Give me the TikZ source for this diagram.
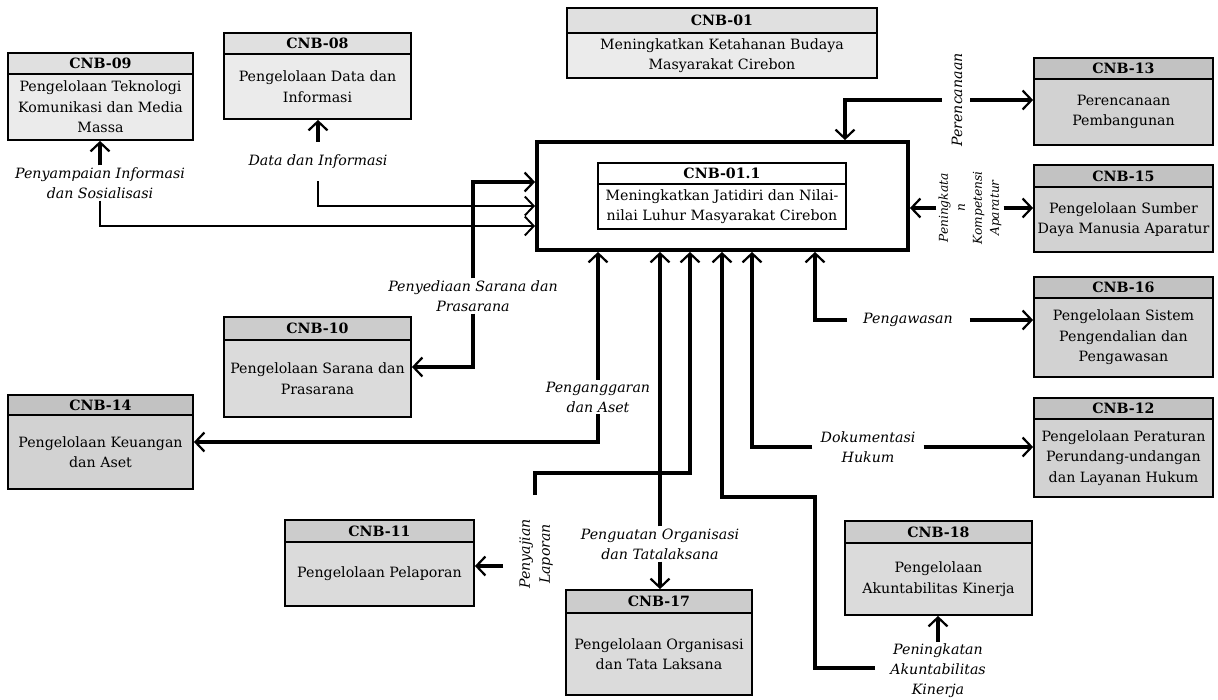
\documentclass[tikz,border=0pt]{standalone}
\usepackage{fontspec}
\setmainfont{DejaVu Serif}
\usetikzlibrary{arrows.meta,fit,calc}
\tikzset{
  lighthead/.style={fill=gray!24}, lightbody/.style={fill=gray!16},
  midhead/.style={fill=gray!40}, midbody/.style={fill=gray!28},
  darkhead/.style={fill=gray!48}, darkbody/.style={fill=gray!35},
  whitehead/.style={fill=white}, whitebody/.style={fill=white},
  cnbframe/.style={draw, line width=1.8pt, inner sep=0pt},
  cnbsep/.style={line width=1.5pt},
  cnbtitle/.style={font=\fontsize{14.2}{16}\selectfont\bfseries, inner sep=0pt},
  cnbbody/.style={align=center, inner sep=0pt, font=\fontsize{14.2}{20.5}\selectfont},
  lbl/.style={align=center, inner sep=2pt, font=\fontsize{14.2}{20}\selectfont\itshape},
  smalllbl/.style={align=center, inner sep=2pt, font=\fontsize{12.2}{17}\selectfont\itshape},
  conn/.style={line width=3.4pt, -{Straight Barb[length=9pt,width=19pt,line width=2.2pt]}},
  thinconn/.style={line width=1.9pt, -{Straight Barb[length=9pt,width=19pt,line width=1.9pt]}},
}
\newcommand\cnbbox[9]{%
  \fill[#1head] (#3,#4) rectangle (#5,#7);
  \fill[#1body] (#3,#7) rectangle (#5,#6);
  \draw[cnbsep] (#3,#7) -- (#5,#7);
  \node[cnbframe, fit={(#3,#4) (#5,#6)}] (#2) {};
  \node[cnbtitle] (#2-t) at ($(#3,#4)!0.5!(#5,#7)$) {#8};
  \node[cnbbody] (#2-b) at ($(#3,#7)!0.5!(#5,#6)$) {#9};
}
\begin{document}
\begin{tikzpicture}[x=1pt,y=-1pt]
\fill[white] (0,0) rectangle (1218,699);
\useasboundingbox (0,0) rectangle (1218,699);

% boxes
\cnbbox{light}{cnb09}{8}{53}{193}{140}{74}{CNB-09}{Pengelolaan Teknologi\\Komunikasi dan Media\\Massa}
\cnbbox{light}{cnb08}{224}{33}{411}{119}{54}{CNB-08}{Pengelolaan Data dan\\Informasi}
\cnbbox{light}{cnb01}{567}{8}{877}{78}{33}{CNB-01}{Meningkatkan Ketahanan Budaya\\Masyarakat Cirebon}
\node[draw, line width=3.8pt, inner sep=0pt, fit={(537,142) (908,250)}] (main) {};
\cnbbox{white}{cnb011}{598}{163}{846}{229}{184}{CNB-01.1}{Meningkatkan Jatidiri dan Nilai-\\nilai Luhur Masyarakat Cirebon}
\cnbbox{dark}{cnb13}{1034}{58}{1213}{145}{79}{CNB-13}{Perencanaan\\Pembangunan}
\cnbbox{dark}{cnb15}{1034}{165}{1213}{252}{187}{CNB-15}{Pengelolaan Sumber\\Daya Manusia Aparatur}
\cnbbox{dark}{cnb16}{1034}{277}{1213}{377}{298}{CNB-16}{Pengelolaan Sistem\\Pengendalian dan\\Pengawasan}
\cnbbox{dark}{cnb12}{1034}{398}{1213}{497}{419}{CNB-12}{Pengelolaan Peraturan\\Perundang-undangan\\dan Layanan Hukum}
\cnbbox{mid}{cnb10}{224}{317}{411}{417}{340}{CNB-10}{Pengelolaan Sarana dan\\Prasarana}
\cnbbox{dark}{cnb14}{8}{395}{193}{489}{415}{CNB-14}{Pengelolaan Keuangan\\dan Aset}
\cnbbox{mid}{cnb11}{285}{520}{474}{606}{542}{CNB-11}{Pengelolaan Pelaporan}
\cnbbox{mid}{cnb17}{566}{590}{752}{695}{613}{CNB-17}{Pengelolaan Organisasi\\dan Tata Laksana}
\cnbbox{mid}{cnb18}{845}{521}{1032}{615}{543}{CNB-18}{Pengelolaan\\Akuntabilitas Kinerja}

% helper coordinates
\coordinate (yA) at (0,182);
\coordinate (yB) at (0,206);
\coordinate (yC) at (0,226);
\coordinate (yPLh) at (0,473);
\coordinate (xPL) at (690,0);
\coordinate (xAK) at (722,0);
\coordinate (xDH) at (752,0);
\coordinate (xPW) at (815,0);
\coordinate (xPR) at (845,0);
\coordinate (cPL) at (535,495);
\coordinate (cPL2) at (503,566);
\coordinate (cAK) at (875,668);
\coordinate (cAKb) at (815,497);

% labels
\node[lbl] (l09) at (100,183) {Penyampaian Informasi\\dan Sosialisasi};
\node[lbl] (l08) at (318,162) {Data dan Informasi};
\node[lbl] (l10) at (473,296) {Penyediaan Sarana dan\\Prasarana};
\node[lbl] (lPA) at (598,397) {Penganggaran\\dan Aset};
\node[lbl] (lPO) at (660,544) {Penguatan Organisasi\\dan Tatalaksana};
\node[lbl, rotate=90] (lPL) at (536,554) {Penyajian\\Laporan};
\node[lbl] (lAK) at (938,671) {Peningkatan\\Akuntabilitas\\Kinerja};
\node[lbl] (lDH) at (868,447) {Dokumentasi\\Hukum};
\node[lbl] (lPW) at (908,320) {Pengawasan};
\node[lbl, rotate=90] (lPR) at (957,100) {Perencanaan};
\node[smalllbl, rotate=90] (lKA) at (970,208) {Peningkata\\n\\Kompetensi\\Aparatur};

% connectors
\draw[conn] (l09.north) -- (cnb09.south -| l09.north);
\draw[thinconn] (l09.south) |- (main.west |- yC);
\draw[conn] ([yshift=11pt]l08.north) -- (cnb08.south -| l08.north);
\draw[thinconn] ([yshift=-10pt]l08.south) |- (main.west |- yB);
\draw[conn] (l10.north) |- (main.west |- yA);
\draw[conn] (l10.south) |- (cnb10.east);
\draw[conn] (lPA.north) -- (main.south -| lPA.north);
\draw[conn] (lPA.south) |- (cnb14.east);
\draw[conn] (lPO.north) -- (main.south -| lPO.north);
\draw[conn] (lPO.south) -- (cnb17.north -| lPO.south);
\draw[conn] (cPL) |- (xPL |- yPLh) -- (main.south -| xPL);
\draw[conn] (cPL2) -- (cnb11.east |- cPL2);
\draw[conn] (lAK.north) -- (cnb18.south -| lAK.north);
\draw[conn] (cAK) -| (cAKb) -| (main.south -| xAK);
\draw[conn] ([xshift=-6pt]lDH.west) -| (main.south -| xDH);
\draw[conn] ([xshift=6pt]lDH.east) -- (cnb12.west |- lDH.east);
\draw[conn] ([xshift=-14pt]lPW.west) -| (main.south -| xPW);
\draw[conn] ([xshift=15pt]lPW.east) -- (cnb16.west |- lPW.east);
\draw[conn] ([xshift=-8pt]lPR.north) -| (main.north -| xPR);
\draw[conn] ([xshift=6pt]lPR.south) -- (cnb13.west |- lPR.south);
\draw[conn] (lKA.north) -- (main.east |- lKA.north);
\draw[conn] (lKA.south) -- (cnb15.west |- lKA.south);
\end{tikzpicture}
\end{document}
